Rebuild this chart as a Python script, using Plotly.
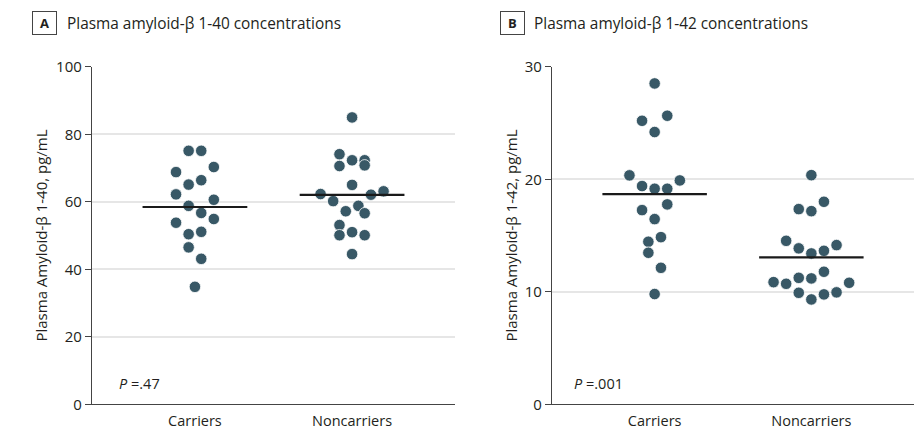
import numpy as np
import plotly.graph_objects as go

# ---------------- data ----------------
categories = ["Carriers", "Noncarriers"]

# Plasma amyloid-beta 1-40 (pg/mL)
ab40_carriers = [75.1, 75.1, 66.4, 65.1, 70.3, 68.8, 56.7, 58.8, 60.6, 62.2,
                 51.1, 50.4, 54.9, 53.8, 43.1, 46.5, 34.8]
ab40_noncarriers = [85.0, 72.3, 72.3, 74.1, 65.0, 70.8, 70.6, 58.8, 57.2, 62.1,
                    60.2, 63.1, 62.3, 51.0, 56.6, 53.1, 44.5, 50.1, 50.1]

# Plasma amyloid-beta 1-42 (pg/mL)
ab42_carriers = [28.52, 24.2, 25.65, 25.2, 19.16, 19.16, 19.4, 19.9, 20.35,
                 16.46, 17.77, 17.26, 14.86, 14.45, 12.13, 13.47, 9.8]
ab42_noncarriers = [20.37, 17.17, 18.0, 17.35, 13.41, 13.64, 13.86, 14.15, 14.53,
                    11.19, 11.78, 11.24, 9.32, 9.77, 9.91, 9.95, 10.71, 10.8, 10.86]

p_values = ["=.47", "=.001"]
panel_letters = ["A", "B"]
panel_titles = ["Plasma amyloid-β 1-40 concentrations",
                "Plasma amyloid-β 1-42 concentrations"]
y_titles = ["Plasma Amyloid-β 1-40, pg/mL", "Plasma Amyloid-β 1-42, pg/mL"]
y_max = [100, 30]
y_step = [20, 10]

# ---------------- layout geometry ----------------
W, H = 919, 446
FONT = "Open Sans"
TXT = "#231f20"
DOT = "#385866"
x_dom_px = [(92, 455), (552, 914)]
y_top_px, y_bot_px = 66.8, 404.3
x_range = [0.345, 2.655]
DOT_PX = 11.5
SLOT_PX = 12.6
ROW_PX = 20.3


def swarm(values, center, row_h, slot):
    """Prism-like column scatter: group sorted values in rows, spread each row."""
    v = np.asarray(values, float)
    order = np.argsort(v, kind="stable")
    rows, cur, start = [], [], None
    for i in order:
        if cur and v[i] - start > row_h:
            rows.append(cur)
            cur = []
        if not cur:
            start = v[i]
        cur.append(i)
    rows.append(cur)
    x = np.empty(len(v))
    for row in rows:
        row = sorted(row)
        n = len(row)
        if n % 2:
            offs = [0] + [s * k for k in range(1, n) for s in (1, -1)]
        else:
            offs = [s * (k - 0.5) for k in range(1, n + 1) for s in (1, -1)]
        for j, i in enumerate(row):
            x[i] = center + offs[j] * slot
    return x


fig = go.Figure()
panels = [(ab40_carriers, ab40_noncarriers), (ab42_carriers, ab42_noncarriers)]
ydom = [(H - y_bot_px) / H, (H - y_top_px) / H]

annotations = []
for p, (car, non) in enumerate(panels):
    xa = "x" if p == 0 else "x2"
    ya = "y" if p == 0 else "y2"
    x0, x1 = x_dom_px[p]
    px_per_x = (x1 - x0) / (x_range[1] - x_range[0])
    px_per_y = (y_bot_px - y_top_px) / y_max[p]
    slot = SLOT_PX / px_per_x
    row_h = ROW_PX / px_per_y
    for c, vals in enumerate((car, non)):
        center = c + 1
        xs = swarm(vals, center, row_h, slot)
        fig.add_trace(go.Scatter(
            x=xs, y=vals, mode="markers", xaxis=xa, yaxis=ya,
            marker=dict(size=DOT_PX, color=DOT, line=dict(color="white", width=0.8)),
            showlegend=False, hoverinfo="y"))
        m = float(np.mean(vals))
        fig.add_trace(go.Scatter(
            x=[center - 1 / 3, center + 1 / 3], y=[m, m], mode="lines",
            xaxis=xa, yaxis=ya, line=dict(color="#1a1a1a", width=2.2),
            showlegend=False, hoverinfo="skip"))

    axis_common = dict(showline=True, linecolor="#444", linewidth=1.3,
                       mirror=False, zeroline=False, automargin=False)
    xkey = "xaxis" if p == 0 else "xaxis2"
    ykey = "yaxis" if p == 0 else "yaxis2"
    fig.update_layout(**{
        xkey: dict(domain=[x0 / W, x1 / W], range=x_range, anchor=ya,
                   tickvals=[1, 2], ticktext=categories, ticks="",
                   ticklabelstandoff=3,
                   showgrid=False, tickfont=dict(family=FONT, size=14.5, color=TXT),
                   **axis_common),
        ykey: dict(domain=ydom, range=[0, y_max[p]], anchor=xa,
                   tick0=0, dtick=y_step[p], ticks="outside", ticklen=6,
                   tickwidth=1.3, tickcolor="#444", showgrid=True,
                   gridcolor="#e6e6e6", gridwidth=1.6,
                   tickfont=dict(family=FONT, size=15, color=TXT),
                   **axis_common),
    })
    # panel letter box
    box_x = [44, 512][p]
    annotations.append(dict(
        x=box_x / W, y=(H - 23) / H, xref="paper", yref="paper",
        text="<b>%s</b>" % panel_letters[p], showarrow=False,
        font=dict(family=FONT, size=13, color=TXT),
        bordercolor="#444", borderwidth=1, borderpad=1, bgcolor="white",
        width=21, height=20, xanchor="center", yanchor="middle"))
    annotations.append(dict(
        x=[65, 532][p] / W, y=(H - 23) / H, xref="paper", yref="paper",
        text=panel_titles[p], showarrow=False, xanchor="left", yanchor="middle",
        font=dict(family=FONT, size=15.4, color=TXT)))
    annotations.append(dict(
        x=[41, 511][p] / W, y=(H - (y_top_px + y_bot_px) / 2) / H,
        xref="paper", yref="paper", text=y_titles[p], textangle=-90,
        showarrow=False, xanchor="center", yanchor="middle",
        font=dict(family=FONT, size=15, color=TXT)))
    annotations.append(dict(
        x=[117, 572][p] / W, y=(H - 383) / H, xref="paper", yref="paper",
        text="<i>P</i> %s" % p_values[p], showarrow=False,
        xanchor="left", yanchor="middle",
        font=dict(family=FONT, size=14.5, color=TXT)))

fig.update_layout(
    template="none",
    width=W, height=H, margin=dict(l=0, r=0, t=0, b=0, pad=0, autoexpand=False),
    paper_bgcolor="white", plot_bgcolor="white",
    annotations=annotations, showlegend=False,
)

fig.write_html(
    "out.html",
    config={"displayModeBar": False},
    post_script="document.body.style.margin='0';"
                "document.documentElement.style.overflow='hidden';"
                "document.body.style.overflow='hidden';",
)
